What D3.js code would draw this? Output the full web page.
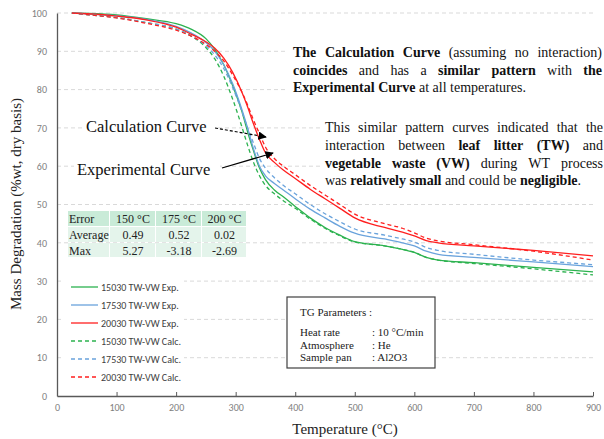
<!DOCTYPE html>
<html>
<head>
<meta charset="utf-8">
<script src="https://cdn.jsdelivr.net/npm/d3@7"></script>
<style>
  body { margin: 0; background: #fff; }
  svg { display: block; }
</style>
</head>
<body>
<svg width="604" height="439"></svg>
<script>
// temperature points (deg C)
var temps = [25, 50, 100, 150, 200, 225, 250, 265, 280, 295, 310, 320, 330, 340, 350, 365, 380, 400, 425, 450, 475, 500, 550, 580, 600, 620, 640, 700, 800, 900];

// mass remaining (%)
var green_exp = [100, 99.9, 99.5, 98.5, 97.2, 95.8, 93.3, 90.5, 86.5, 81, 74.5, 69, 64, 59.5, 56.5, 53.8, 52, 49.5, 46.5, 44, 42, 40.3, 39.2, 38.3, 37.5, 36.2, 35.5, 34.8, 33.6, 32.4];
var blue_exp  = [100, 99.8, 99.3, 98.3, 96.5, 94.8, 92.3, 90, 86.5, 81.5, 75, 70, 64.5, 60, 57.5, 55.5, 53.8, 51.5, 48.8, 46.5, 44.3, 42.5, 41, 40, 39.2, 37.8, 37, 36.2, 35, 33.8];
var red_exp   = [100, 99.8, 99.2, 98.2, 96.3, 94.5, 92.5, 90.8, 88.2, 84.5, 79.5, 75.5, 71, 67, 63.5, 61, 59, 56.8, 54, 51.5, 49, 46.5, 44, 42.8, 41.8, 40.6, 40, 39.2, 38, 36.6];
var green_calc = [100, 99.6, 98.8, 97.5, 95.8, 94, 91, 88, 83.5, 77.5, 70.5, 65.5, 61, 57.5, 55, 52.8, 51, 49, 46.2, 43.8, 41.8, 40.2, 39.2, 38.3, 37.5, 36.2, 35.5, 34.6, 33.2, 31.6];
var blue_calc  = [100, 99.6, 98.8, 97.5, 95.8, 94, 91.5, 89, 85.5, 80.5, 74.5, 70, 66, 62, 59.5, 57, 55, 52.8, 50, 47.6, 45.5, 43.6, 42, 41, 40.2, 38.8, 38, 37, 35.5, 34.3];
var red_calc   = [100, 99.6, 98.7, 97.3, 95.5, 94, 91.8, 90, 87.5, 83.8, 79.5, 76, 72, 68.5, 65, 62, 60, 57.8, 55, 52.5, 50, 47.5, 45, 43.8, 42.6, 41.2, 40.5, 39.5, 37.8, 35.5];

var seriesNames = ["15030 TW-VW Exp.", "17530 TW-VW Exp.", "20030 TW-VW Exp.", "15030 TW-VW Calc.", "17530 TW-VW Calc.", "20030 TW-VW Calc."];
var seriesData = [green_exp, blue_exp, red_exp, green_calc, blue_calc, red_calc];
var seriesColors = ["#2cb24f", "#6aa3dc", "#ff1f1f", "#2cb24f", "#6aa3dc", "#ff1f1f"];
var seriesDashed = [false, false, false, true, true, true];

var xTicks = [0, 100, 200, 300, 400, 500, 600, 700, 800, 900];
var yTicks = [0, 10, 20, 30, 40, 50, 60, 70, 80, 90, 100];

// error table
var tableHeader = ["Error", "150 \u00B0C", "175 \u00B0C", "200 \u00B0C"];
var tableRows = [["Average", "0.49", "0.52", "0.02"], ["Max", "5.27", "-3.18", "-2.69"]];

var svg = d3.select("svg");
var serif = "'Liberation Serif', 'Times New Roman', serif";
var sans = "Carlito, 'Liberation Sans', Arial, sans-serif";

var x = d3.scaleLinear().domain([0, 900]).range([57, 593]);
var y = d3.scaleLinear().domain([0, 100]).range([396, 13]);

// gridlines
svg.append("g").selectAll("line")
    .data(yTicks.filter(function(d){ return d > 0; }))
    .enter().append("line")
    .attr("x1", x(0)).attr("x2", x(900))
    .attr("y1", function(d){ return y(d); })
    .attr("y2", function(d){ return y(d); })
    .style("stroke", "#d9d9d9")
    .style("stroke-width", 1)
    .style("stroke-dasharray", "4,3");

// white boxes behind text blocks (they hide the grid)
var boxes = [[288, 42, 316, 54], [320, 117, 284, 72], [82, 117, 134, 20], [74, 159, 146, 20], [64, 276, 120, 110]];
svg.append("g").selectAll("rect").data(boxes).enter().append("rect")
    .attr("x", function(d){ return d[0]; }).attr("y", function(d){ return d[1]; })
    .attr("width", function(d){ return d[2]; }).attr("height", function(d){ return d[3]; })
    .style("fill", "#fff");

// axes
var xAxis = d3.axisBottom(x).tickValues(xTicks).tickSizeInner(-4).tickSizeOuter(0).tickPadding(8);
var gx = svg.append("g").attr("transform", "translate(0," + y(0) + ")").call(xAxis);
gx.select(".domain").style("stroke", "#595959").style("stroke-width", 1.3);
gx.selectAll(".tick line").style("stroke", "#595959");
gx.selectAll("text").style("font-family", sans).style("font-size", "10px").style("fill", "#808080");

var yAxis = d3.axisLeft(y).tickValues(yTicks).tickSize(0).tickPadding(10);
var gy = svg.append("g").attr("transform", "translate(" + x(0) + ",0)").call(yAxis);
gy.select(".domain").style("stroke", "#595959").style("stroke-width", 1.3);
gy.selectAll("text").style("font-family", sans).style("font-size", "10px").style("fill", "#808080");

// curves
var line = d3.line()
    .x(function(d){ return x(d[0]); })
    .y(function(d){ return y(d[1]); })
    .curve(d3.curveMonotoneX);

svg.append("g").selectAll("path")
    .data(seriesData)
    .enter().append("path")
    .attr("d", function(vals){ return line(temps.map(function(t, i){ return [t, vals[i]]; })); })
    .style("fill", "none")
    .style("stroke", function(d, i){ return seriesColors[i]; })
    .style("stroke-width", 1.3)
    .style("stroke-dasharray", function(d, i){ return seriesDashed[i] ? "4,3" : null; });

// axis titles
svg.append("text")
    .attr("transform", "translate(21,204) rotate(-90)")
    .attr("text-anchor", "middle")
    .style("font-family", serif).style("font-size", "15px").style("fill", "#222")
    .text("Mass Degradation (%wt, dry basis)");

svg.append("text")
    .attr("x", 345).attr("y", 434)
    .attr("text-anchor", "middle")
    .style("font-family", serif).style("font-size", "15px").style("fill", "#222")
    .text("Temperature (\u00B0C)");

// legend
var leg = svg.append("g").selectAll("g").data(seriesNames).enter().append("g")
    .attr("transform", function(d, i){ return "translate(71," + (287 + i * 18) + ")"; });
leg.append("line")
    .attr("x1", 0).attr("x2", 27)
    .style("stroke", function(d, i){ return seriesColors[i]; })
    .style("stroke-width", 1.3)
    .style("stroke-dasharray", function(d, i){ return seriesDashed[i] ? "4,3" : null; });
leg.append("text")
    .attr("x", 30).attr("y", 3.5)
    .style("font-family", sans).style("font-size", "10px").style("fill", "#404040")
    .text(function(d){ return d; });

// error table
var colX = [68, 110, 156, 202, 247];
var rowY = [211, 227, 243, 258];
var tbl = svg.append("g");
[tableHeader].concat(tableRows).forEach(function(row, r){
    row.forEach(function(cell, c){
        tbl.append("rect")
            .attr("x", colX[c]).attr("y", rowY[r])
            .attr("width", colX[c + 1] - colX[c] - 1).attr("height", rowY[r + 1] - rowY[r] - 1)
            .style("fill", r === 0 ? "#c9ebd8" : "#e4f4eb");
        tbl.append("text")
            .attr("x", c === 0 ? colX[c] + 1 : (colX[c] + colX[c + 1]) / 2)
            .attr("y", rowY[r] + 12)
            .attr("text-anchor", c === 0 ? "start" : "middle")
            .style("font-family", serif).style("font-size", "12px").style("fill", "#222")
            .text(cell);
    });
});

// TG parameter box
var tg = svg.append("g");
tg.append("rect").attr("x", 287).attr("y", 297).attr("width", 148).attr("height", 71)
    .style("fill", "#fff").style("stroke", "#404040").style("stroke-width", 1.2);
var tgRows = [["TG Parameters :", "", 316], ["Heat rate", ": 10 \u00B0C/min", 336], ["Atmosphere", ": He", 349], ["Sample pan", ": Al2O3", 361]];
tgRows.forEach(function(r){
    tg.append("text").attr("x", 300).attr("y", r[2])
        .style("font-family", serif).style("font-size", "11px").style("fill", "#222").text(r[0]);
    tg.append("text").attr("x", 372).attr("y", r[2])
        .style("font-family", serif).style("font-size", "11px").style("fill", "#222").text(r[1]);
});

// arrows
svg.append("defs").append("marker")
    .attr("id", "head").attr("viewBox", "0 0 10 10")
    .attr("refX", 9).attr("refY", 5)
    .attr("markerWidth", 7).attr("markerHeight", 7)
    .attr("orient", "auto")
    .append("path").attr("d", "M0,0L10,5L0,10Z").style("fill", "#000");

svg.append("line").attr("x1", 215).attr("y1", 128).attr("x2", 266).attr("y2", 137)
    .style("stroke", "#000").style("stroke-width", 1.2).style("stroke-dasharray", "3,2")
    .attr("marker-end", "url(#head)");
svg.append("line").attr("x1", 222).attr("y1", 168).attr("x2", 273).attr("y2", 153)
    .style("stroke", "#000").style("stroke-width", 1.2)
    .attr("marker-end", "url(#head)");

svg.append("text").attr("x", 86).attr("y", 132)
    .style("font-family", serif).style("font-size", "16.5px").style("fill", "#111")
    .text("Calculation Curve");
svg.append("text").attr("x", 77).attr("y", 175)
    .style("font-family", serif).style("font-size", "16.5px").style("fill", "#111")
    .text("Experimental  Curve");

// justified paragraphs
function paragraph(lines, x0, w, y0, lh){
    var g = svg.append("g");
    lines.forEach(function(ln, li){
        var words = [];
        ln.segs.forEach(function(s){
            s[0].split(" ").forEach(function(wd){ words.push([wd, s[1]]); });
        });
        var nodes = words.map(function(wd){
            return g.append("text").attr("y", y0 + li * lh)
                .style("font-family", serif).style("font-size", "14px").style("fill", "#111")
                .style("font-weight", wd[1] ? "bold" : "normal")
                .text(wd[0]);
        });
        var widths = nodes.map(function(n){ return n.node().getComputedTextLength(); });
        var total = d3.sum(widths);
        var gap = ln.justify ? (w - total) / (words.length - 1) : 3.5;
        var cx = x0;
        nodes.forEach(function(n, i){
            // punctuation attached to previous word
            if (words[i][0] === ".") cx -= gap;
            n.attr("x", cx);
            cx += widths[i] + gap;
        });
    });
}

paragraph([
    {segs: [["The Calculation Curve", true], ["(assuming no interaction)", false]], justify: true},
    {segs: [["coincides", true], ["and has a", false], ["similar pattern", true], ["with", false], ["the", true]], justify: true},
    {segs: [["Experimental Curve", true], ["at all temperatures.", false]], justify: false}
], 293, 309, 57, 17.7);

paragraph([
    {segs: [["This similar pattern curves indicated that the", false]], justify: true},
    {segs: [["interaction between", false], ["leaf litter (TW)", true], ["and", false]], justify: true},
    {segs: [["vegetable waste (VW)", true], ["during WT process", false]], justify: true},
    {segs: [["was", false], ["relatively small", true], ["and could be", false], ["negligible", true], [".", false]], justify: false}
], 325, 278, 132, 17.8);
</script>
</body>
</html>
